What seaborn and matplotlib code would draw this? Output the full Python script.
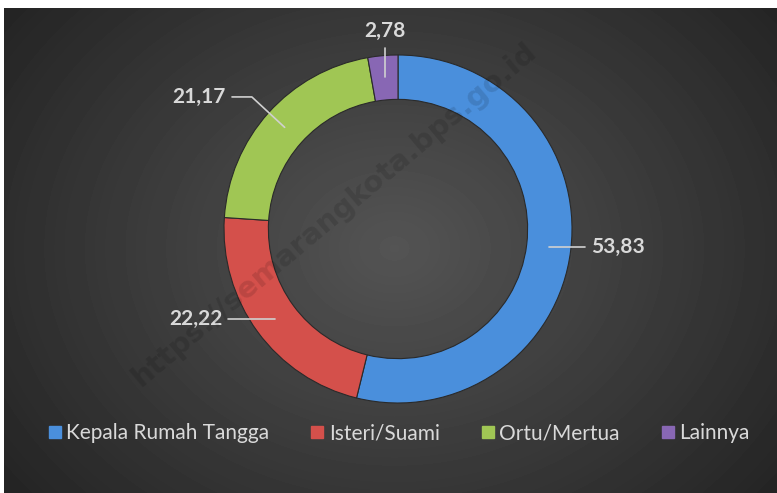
import numpy as np
from matplotlib import pyplot as plt
from matplotlib.lines import Line2D
import seaborn as sns

categories = ["Kepala Rumah Tangga", "Isteri/Suami", "Ortu/Mertua", "Lainnya"]
values = [53.83, 22.22, 21.17, 2.78]
labels = ["53,83", "22,22", "21,17", "2,78"]

sns.set_style("white")
plt.rcParams['font.family'] = ['Lato', 'DejaVu Sans']
colors = sns.color_palette(["#4a8fdc", "#d4504b", "#a0c654", "#8867b4"])
txt = "#d9d9d9"

fig = plt.figure(figsize=(7.77, 4.93), dpi=100, facecolor="white")

# dark radial background
bg = fig.add_axes([4/777, 0, 773/777, 485/493])
yy, xx = np.mgrid[0:485, 0:773]
d = np.sqrt(((xx - 390) / 520) ** 2 + ((yy - 240) / 420) ** 2)
shade = np.clip(0.33 - 0.20 * d, 0.11, 0.33)
bg.imshow(shade, cmap="gray", vmin=0, vmax=1, aspect="auto")
bg.set_axis_off()

# donut
ax = fig.add_axes([(398-174)/777, (264-174)/493, 348/777, 348/493])
ax.set_facecolor("none")
wedges, _ = ax.pie(values, colors=colors, startangle=90, counterclock=False,
                   radius=1, wedgeprops=dict(width=0.255, edgecolor="#2a2a2a", linewidth=0.8))
ax.set_xlim(-1, 1)
ax.set_ylim(-1, 1)
ax.set_aspect("equal")
ax.set_axis_off()

# leader lines + labels
r = 0.875
mids = [np.deg2rad((w.theta1 + w.theta2) / 2) for w in wedges]
kw = dict(color="#d0d0d0", lw=1.2, clip_on=False)
fs = 15
# blue
a = mids[0]; x0, y0 = r*np.cos(a), r*np.sin(a)
ax.plot([x0, 1.075], [y0, y0], **kw)
ax.text(1.11, y0, labels[0], color=txt, fontsize=fs, fontweight="bold", va="center", ha="left")
# red
a = mids[1]; x0, y0 = r*np.cos(a), r*np.sin(a)
ax.plot([x0, -0.977], [y0, y0], **kw)
ax.text(-1.01, y0, labels[1], color=txt, fontsize=fs, fontweight="bold", va="center", ha="right")
# green
a = mids[2]; x0, y0 = r*np.cos(a), r*np.sin(a)
ax.plot([x0, -0.84, -0.954], [y0, 0.759, 0.759], **kw)
ax.text(-0.99, 0.759, labels[2], color=txt, fontsize=fs, fontweight="bold", va="center", ha="right")
# purple
a = mids[3]; x0, y0 = r*np.cos(a), r*np.sin(a)
ax.plot([x0, x0], [y0, 1.04], **kw)
ax.text(x0, 1.08, labels[3], color=txt, fontsize=fs, fontweight="bold", va="bottom", ha="center")

# watermark
fig.text(0.43, 0.565, "https://semarangkota.bps.go.id", rotation=40, fontsize=21,
         fontweight="bold", color="black", alpha=0.12, ha="center", va="center",
         family="DejaVu Sans")

handles = [Line2D([], [], marker="s", ls="", markersize=8, markerfacecolor=c,
                  markeredgecolor=c) for c in colors]
fig.legend(handles, categories, loc="center", bbox_to_anchor=(398/777, 60/493), ncol=4,
           frameon=False, fontsize=15, labelcolor=txt, handletextpad=0.15,
           columnspacing=1.9, handlelength=0.8)

plt.savefig("out.png", dpi=100, facecolor="white")
